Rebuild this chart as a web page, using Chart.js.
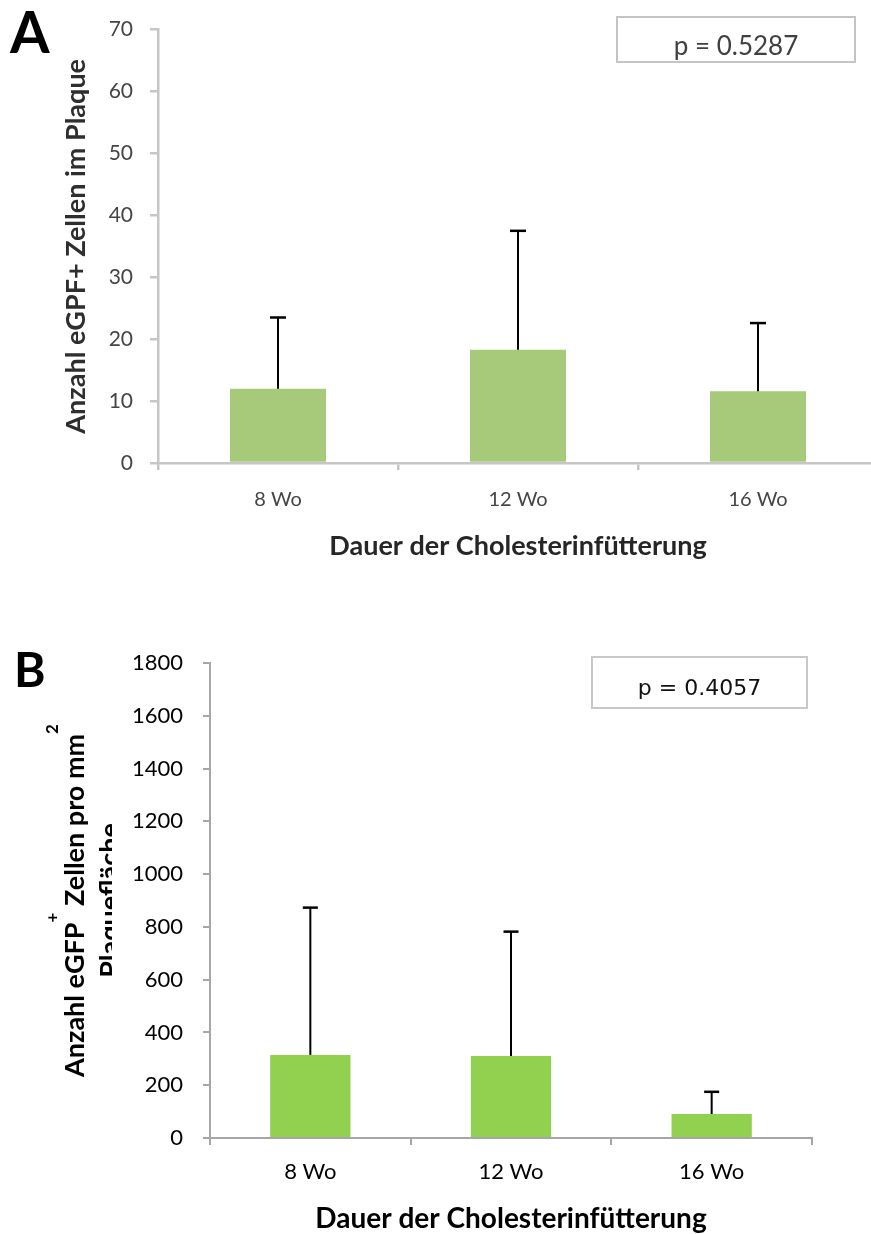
<!DOCTYPE html>
<html>
<head>
<meta charset="utf-8">
<title>eGFP+ Zellen im Plaque</title>
<script src="https://cdn.jsdelivr.net/npm/chart.js@4/dist/chart.umd.min.js"></script>
<style>
  html, body { margin: 0; padding: 0; background: #fff; overflow: hidden; width: 871px; height: 1234px; }
  #wrapA { position: absolute; left: 0; top: 0; width: 880px; height: 600px; filter: blur(0.6px); }
  #wrapB { position: absolute; left: 0; top: 600px; width: 871px; height: 644px; }
</style>
</head>
<body>
<div id="wrapA"><canvas id="chartA"></canvas></div>
<div id="wrapB"><canvas id="chartB"></canvas></div>
<script>
// Feeding duration groups
const categories = ['8 Wo', '12 Wo', '16 Wo'];

// Panel A: eGFP+ cells per plaque (mean, SD)
const cellsPerPlaque = [12.0, 18.3, 11.6];
const cellsPerPlaqueSD = [11.5, 19.2, 11.0];
const yTicksA = [0, 10, 20, 30, 40, 50, 60, 70];
const pValueA = 'p = 0.5287';

// Panel B: eGFP+ cells per mm² plaque area (mean, SD)
const cellsPerArea = [315, 311, 91];
const cellsPerAreaSD = [558, 471, 84];
const yTicksB = [0, 200, 400, 600, 800, 1000, 1200, 1400, 1600, 1800];
const pValueB = 'p = 0.4057';

const xTitle = 'Dauer der Cholesterinfütterung';

// Upward SD whiskers drawn from each bar top
const errorBars = {
  id: 'errorBars',
  afterDatasetsDraw(chart, args, o) {
    const ctx = chart.ctx;
    const y = chart.scales.y;
    chart.data.datasets.forEach((ds, i) => {
      chart.getDatasetMeta(i).data.forEach((bar, j) => {
        const top = y.getPixelForValue(ds.data[j] + ds.errors[j]);
        ctx.save();
        ctx.strokeStyle = o.color;
        ctx.lineWidth = o.width;
        ctx.beginPath();
        ctx.moveTo(bar.x, bar.y);
        ctx.lineTo(bar.x, top);
        ctx.stroke();
        ctx.lineWidth = o.capWidth;
        ctx.beginPath();
        ctx.moveTo(bar.x - o.cap / 2, top);
        ctx.lineTo(bar.x + o.cap / 2, top);
        ctx.stroke();
        ctx.restore();
      });
    });
  }
};

// Panel letter and boxed p-value
const panelNotes = {
  id: 'panelNotes',
  afterDraw(chart, args, o) {
    const ctx = chart.ctx;
    ctx.save();
    ctx.font = o.letterFont;
    ctx.fillStyle = '#000';
    ctx.textBaseline = 'alphabetic';
    ctx.textAlign = 'left';
    ctx.fillText(o.letter, o.letterX, o.letterY);
    const [bx, by, bw, bh] = o.box;
    ctx.strokeStyle = o.boxColor;
    ctx.lineWidth = o.boxLine;
    ctx.strokeRect(bx, by, bw, bh);
    ctx.font = o.font;
    ctx.fillStyle = o.color;
    ctx.textAlign = 'center';
    ctx.fillText(o.text, bx + bw / 2, o.textY);
    ctx.restore();
  }
};

// Rotated y title with superscripts (panel B)
const superTitle = {
  id: 'superTitle',
  afterDraw(chart, args, o) {
    if (!o.parts) return;
    const ctx = chart.ctx;
    const cy = (chart.chartArea.top + chart.chartArea.bottom) / 2;
    ctx.save();
    ctx.fillStyle = o.color;
    ctx.textBaseline = 'alphabetic';
    let total = 0;
    o.parts.forEach(p => { ctx.font = p.sup ? o.supFont : o.font; total += ctx.measureText(p.t).width; });
    ctx.translate(o.x, cy);
    ctx.rotate(-Math.PI / 2);
    let x = -total / 2;
    o.parts.forEach(p => {
      ctx.font = p.sup ? o.supFont : o.font;
      ctx.fillText(p.t, x, p.sup ? -o.supRise : 0);
      x += ctx.measureText(p.t).width;
    });
    ctx.restore();
    // second line, partly hidden behind the tick label column
    ctx.save();
    ctx.beginPath();
    ctx.rect(0, 0, o.clipX, chart.height);
    ctx.clip();
    ctx.fillStyle = o.color;
    ctx.font = o.font;
    ctx.textAlign = 'center';
    ctx.translate(o.x + o.lineGap, cy);
    ctx.rotate(-Math.PI / 2);
    ctx.fillText(o.second, 0, 0);
    ctx.restore();
  }
};

function makeChart(id, cfg) {
  return new Chart(document.getElementById(id), {
    type: 'bar',
    data: {
      labels: categories,
      datasets: [{
        data: cfg.values,
        errors: cfg.sd,
        backgroundColor: cfg.barColor,
        borderWidth: 0,
        barPercentage: 0.4,
        categoryPercentage: 1.0
      }]
    },
    options: {
      responsive: true,
      maintainAspectRatio: false,
      devicePixelRatio: 1,
      animation: false,
      layout: { padding: cfg.padding },
      plugins: {
        legend: { display: false },
        tooltip: { enabled: false },
        errorBars: { color: '#000', width: 2, capWidth: 2.5, cap: cfg.cap },
        panelNotes: cfg.notes,
        superTitle: cfg.superTitle || {}
      },
      scales: {
        x: {
          afterFit: s => { s.height = cfg.xHeight; },
          border: { color: cfg.axisColor, width: cfg.axisWidth },
          grid: { offset: true, drawOnChartArea: false, color: cfg.axisColor, lineWidth: cfg.axisWidth, tickLength: cfg.xTickLen },
          ticks: { color: cfg.tickColor, font: cfg.xTickFont, padding: cfg.xTickPad, maxRotation: 0 },
          title: { display: true, text: xTitle, color: cfg.titleColor, font: cfg.xTitleFont, padding: { top: 0, bottom: cfg.xTitlePad } }
        },
        y: {
          min: 0,
          max: cfg.yTicks[cfg.yTicks.length - 1],
          afterBuildTicks: s => { s.ticks = cfg.yTicks.map(v => ({ value: v })); },
          afterFit: s => { s.width = cfg.yWidth; },
          border: { color: cfg.axisColor, width: cfg.axisWidth },
          grid: { drawOnChartArea: false, color: cfg.axisColor, lineWidth: cfg.axisWidth, tickLength: cfg.yTickLen },
          ticks: { color: cfg.tickColor, font: cfg.yTickFont, padding: cfg.yTickPad, callback: v => String(v) },
          title: cfg.yTitle || { display: false }
        }
      }
    },
    plugins: [errorBars, panelNotes, superTitle]
  });
}

makeChart('chartA', {
  values: cellsPerPlaque,
  sd: cellsPerPlaqueSD,
  yTicks: yTicksA,
  barColor: '#a6c97a',
  axisColor: '#c6c6c6',
  axisWidth: 2.5,
  tickColor: '#454545',
  titleColor: '#262626',
  padding: { left: 0, top: 22, right: 2, bottom: 0 },
  xHeight: 137,
  yWidth: 158,
  xTickLen: 7,
  yTickLen: 8,
  xTickFont: { family: 'Lato', size: 20 },
  yTickFont: { family: 'Lato', size: 21 },
  xTickPad: 18,
  yTickPad: 17,
  xTitleFont: { family: 'Lato', size: 27, weight: 'bold' },
  xTitlePad: 38,
  cap: 16,
  yTitle: {
    display: true,
    text: 'Anzahl eGPF+ Zellen im Plaque',
    color: '#2e2e2e',
    font: { family: 'Lato', size: 27, weight: 'bold' },
    padding: { top: 60, bottom: 0 }
  },
  notes: {
    letter: 'A', letterFont: 'bold 57px Lato', letterX: 10, letterY: 53,
    box: [617, 17, 238, 45], boxColor: '#c4c4c4', boxLine: 2,
    text: pValueA, font: '26px Lato', color: '#404040', textY: 55
  }
});

makeChart('chartB', {
  values: cellsPerArea,
  sd: cellsPerAreaSD,
  yTicks: yTicksB,
  barColor: '#92d050',
  axisColor: '#a6a6a6',
  axisWidth: 2,
  tickColor: '#000',
  titleColor: '#000',
  padding: { left: 0, top: 63, right: 59, bottom: 0 },
  xHeight: 106,
  yWidth: 210,
  xTickLen: 7,
  yTickLen: 7,
  xTickFont: { family: 'Lato', size: 22 },
  yTickFont: { family: 'Lato', size: 22 },
  xTickPad: 14,
  yTickPad: 20,
  xTitleFont: { family: 'Lato', size: 28, weight: 'bold' },
  xTitlePad: 8,
  cap: 15,
  superTitle: {
    parts: [{ t: 'Anzahl eGFP' }, { t: '+', sup: true }, { t: ' Zellen pro mm' }, { t: '2', sup: true }],
    second: 'Plaquefläche',
    font: 'bold 27px Lato', supFont: 'bold 17px Lato', supRise: 26,
    color: '#000', x: 84, lineGap: 35, clipX: 112
  },
  notes: {
    letter: 'B', letterFont: 'bold 48px Lato', letterX: 14, letterY: 87,
    box: [592, 57, 215, 51], boxColor: '#c8c8c8', boxLine: 2,
    text: pValueB, font: '22px "DejaVu Sans"', color: '#111', textY: 95
  }
});
</script>
</body>
</html>
